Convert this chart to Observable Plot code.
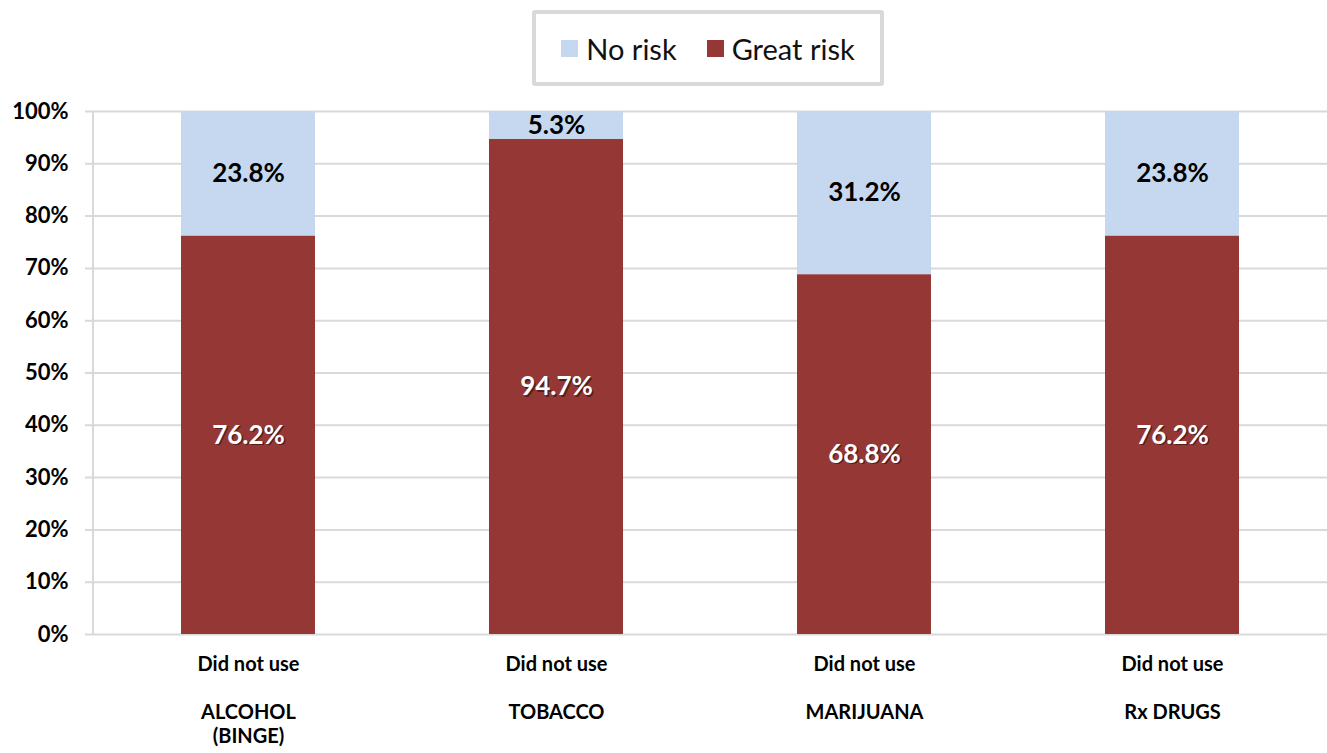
<!DOCTYPE html>
<html>
<head>
<meta charset="utf-8">
<script src="https://cdn.jsdelivr.net/npm/d3@7"></script>
<script src="https://cdn.jsdelivr.net/npm/@observablehq/plot@0.6"></script>
<style>
  body { margin: 0; background: #fff; font-family: Lato, "Open Sans", sans-serif; }
  #wrap { width: 1327px; height: 753px; position: relative; overflow: hidden; }
  #legend { height: 95px; position: relative; }
  #legend .box {
    position: absolute; left: 532px; top: 10px; width: 344px; height: 68px;
    border: 4px solid #d9d9d9; border-radius: 3px; box-sizing: content-box;
    display: flex; align-items: center; justify-content: center; gap: 30px;
    font-size: 29px; color: #111;
  }
  #legend .item { display: flex; align-items: center; gap: 8px; }
  #legend .sw { width: 17px; height: 17px; display: inline-block; }
</style>
</head>
<body>
<div id="wrap">
  <div id="legend"><div class="box"></div></div>
  <div id="chart"></div>
</div>
<script>
const categories = ["ALCOHOL (BINGE)", "TOBACCO", "MARIJUANA", "Rx DRUGS"];
const categoryLabels = ["Did not use\n\nALCOHOL\n(BINGE)", "Did not use\n\nTOBACCO", "Did not use\n\nMARIJUANA", "Did not use\n\nRx DRUGS"];
const greatRisk = [76.2, 94.7, 68.8, 76.2];
const noRisk = [23.8, 5.3, 31.2, 23.8];
const seriesNames = ["Great risk", "No risk"];
const seriesColors = ["#953735", "#c5d8ef"];
const yTicks = [0, 10, 20, 30, 40, 50, 60, 70, 80, 90, 100];

const data = [];
categories.forEach((c, i) => {
  data.push({cat: c, series: "Great risk", value: greatRisk[i], y1: 0, y2: greatRisk[i]});
  data.push({cat: c, series: "No risk", value: noRisk[i], y1: greatRisk[i], y2: greatRisk[i] + noRisk[i]});
});

// legend
const box = document.querySelector("#legend .box");
[["No risk", seriesColors[1]], ["Great risk", seriesColors[0]]].forEach(([n, col]) => {
  const it = document.createElement("div");
  it.className = "item";
  it.innerHTML = `<span class="sw" style="background:${col}"></span><span>${n}</span>`;
  box.appendChild(it);
});

const labelMap = new Map(categories.map((c, i) => [c, categoryLabels[i]]));
const fmt = d => d.toFixed(1) + "%";

// vertical axis line drawn at the left edge of the frame
function leftAxisLine(index, scales, values, dimensions) {
  const g = d3.create("svg:g");
  g.append("line")
    .attr("x1", dimensions.marginLeft).attr("x2", dimensions.marginLeft)
    .attr("y1", scales.y(100)).attr("y2", scales.y(0))
    .attr("stroke", "#d9d9d9").attr("stroke-width", 2);
  return g.node();
}

const chart = Plot.plot({
  width: 1327,
  height: 658,
  marginTop: 16,
  marginBottom: 119,
  marginLeft: 93,
  marginRight: 0,
  style: {fontFamily: "Lato, 'Open Sans', sans-serif", color: "#000", background: "#fff"},
  x: {domain: categories, paddingInner: 0.566, paddingOuter: 0.283, align: 0.5, label: null},
  y: {domain: [0, 100], label: null},
  color: {domain: seriesNames, range: seriesColors},
  marks: [
    Plot.gridY(yTicks, {stroke: "#d9d9d9", strokeOpacity: 1, strokeWidth: 2, insetLeft: -8}),
    leftAxisLine,
    Plot.axisY(yTicks, {tickSize: 0, tickPadding: 25, tickFormat: d => d + "%", fontSize: 22, fontWeight: "bold", fill: "#000"}),
    Plot.axisX({tickSize: 0, tickPadding: 19, tickFormat: d => labelMap.get(d), fontSize: 20, fontWeight: "bold", lineHeight: 1.2, fill: "#000", textAnchor: "middle"}),
    Plot.barY(data, {x: "cat", y1: "y1", y2: "y2", fill: "series"}),
    Plot.text(data.filter(d => d.series === "Great risk"), {x: "cat", y: d => (d.y1 + d.y2) / 2, text: d => fmt(d.value), fill: "rgba(0,0,0,0.45)", dx: 1.5, dy: 1.5, fontSize: 26, fontWeight: "bold"}),
    Plot.text(data, {x: "cat", y: d => (d.y1 + d.y2) / 2, text: d => fmt(d.value), fill: d => d.series === "Great risk" ? "#fff" : "#000", fontSize: 26, fontWeight: "bold"})
  ]
});
document.getElementById("chart").appendChild(chart);
</script>
</body>
</html>
